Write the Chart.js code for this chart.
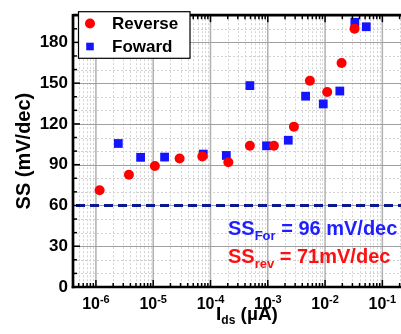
<!DOCTYPE html>
<html>
<head>
<meta charset="utf-8">
<script src="https://cdn.jsdelivr.net/npm/chart.js@4/dist/chart.umd.min.js"></script>
<style>
html,body{margin:0;padding:0;background:#fff;overflow:hidden;width:401px;height:334px;}
canvas{display:block;}
</style>
</head>
<body>
<canvas id="c" width="420" height="334"></canvas>
<script>
// ---- data ----
const revCurrent = [1.16e-6, 3.77e-6, 1.07e-5, 2.89e-5, 7.2e-5, 2.05e-4, 4.87e-4, 1.28e-3, 2.86e-3, 5.43e-3, 1.09e-2, 1.94e-2, 3.27e-2];
const revSS      = [71.2, 82.6, 89.0, 94.5, 96.1, 91.8, 103.9, 103.9, 118.0, 151.8, 143.5, 164.8, 190.1];
const forCurrent = [2.46e-6, 6.03e-6, 1.58e-5, 7.48e-5, 1.89e-4, 4.87e-4, 9.5e-4, 2.28e-3, 4.57e-3, 9.3e-3, 1.81e-2, 3.31e-2, 5.24e-2];
const forSS      = [105.6, 95.4, 95.6, 97.8, 96.8, 148.2, 103.9, 108.0, 140.4, 134.7, 144.2, 194.8, 191.5];
const yTicks = [0, 30, 60, 90, 120, 150, 180];
const xDecades = [-6, -5, -4, -3, -2, -1];
const idealSS = 60;
const seriesLabels = ['Reverse', 'Foward'];
const annotFor = ['SS', 'For', ' = 96 mV/dec'];
const annotRev = ['SS', 'rev', ' = 71mV/dec'];

const FONT = '"Liberation Sans", Arial, sans-serif';
const RED = '#ff0000', BLUE = '#1414ff';

function toPts(xs, ys){ return xs.map((x,i)=>({x:x, y:ys[i]})); }

function rich(ctx, parts, x, y, align){
  let w = 0;
  parts.forEach(p=>{ ctx.font = 'bold '+p[1]+'px '+FONT; w += ctx.measureText(p[0]).width; });
  let cx = align==='center' ? x - w/2 : x;
  ctx.textAlign = 'left'; ctx.textBaseline = 'alphabetic';
  parts.forEach(p=>{ ctx.font = 'bold '+p[1]+'px '+FONT; ctx.fillText(p[0], cx, y + p[2]); cx += ctx.measureText(p[0]).width; });
}

const decor = {
  id: 'decor',
  beforeDatasetsDraw(chart){
    const ctx = chart.ctx, a = chart.chartArea, xs = chart.scales.x, ys = chart.scales.y;
    ctx.save();
    ctx.beginPath(); ctx.rect(a.left, a.top, a.right-a.left, a.bottom-a.top); ctx.clip();
    ctx.strokeStyle = '#d2d2d2'; ctx.lineWidth = 1; ctx.setLineDash([2,2]);
    for (let k=-7;k<=0;k++) for (let m=2;m<=9;m++){
      const v = m*Math.pow(10,k); const px = Math.round(xs.getPixelForValue(v))+0.5;
      if (px<a.left||px>a.right) continue;
      ctx.beginPath(); ctx.moveTo(px,a.top); ctx.lineTo(px,a.bottom); ctx.stroke();
    }
    for (let v=10; v<200; v+=10){
      if (v%30===0) continue;
      const py = Math.round(ys.getPixelForValue(v))+0.5;
      ctx.beginPath(); ctx.moveTo(a.left,py); ctx.lineTo(a.right,py); ctx.stroke();
    }
    ctx.setLineDash([]);
    ctx.strokeStyle = '#b0b0b0'; ctx.lineWidth = 1.5;
    xDecades.forEach(k=>{
      const px = xs.getPixelForValue(Math.pow(10,k));
      ctx.beginPath(); ctx.moveTo(px,a.top); ctx.lineTo(px,a.bottom); ctx.stroke();
    });
    ctx.strokeStyle = '#a0a0a0'; ctx.lineWidth = 1;
    yTicks.forEach(v=>{
      if (v===0) return;
      const py = Math.round(ys.getPixelForValue(v))+0.5;
      ctx.beginPath(); ctx.moveTo(a.left,py); ctx.lineTo(a.right,py); ctx.stroke();
    });
    const p60 = ys.getPixelForValue(idealSS);
    ctx.strokeStyle = '#0a1a8c'; ctx.lineWidth = 3; ctx.setLineDash([9,5]);
    ctx.beginPath(); ctx.moveTo(a.left+3,p60); ctx.lineTo(a.right,p60); ctx.stroke();
    ctx.restore();
  },
  afterDraw(chart){
    const ctx = chart.ctx, a = chart.chartArea, xs = chart.scales.x, ys = chart.scales.y;
    ctx.save();
    ctx.strokeStyle = '#000'; ctx.lineWidth = 1.5;
    for (let v=0; v<=200; v+=10){
      const py = ys.getPixelForValue(v); const L = v%30===0 ? 7 : 4;
      ctx.beginPath(); ctx.moveTo(a.left,py); ctx.lineTo(a.left+L,py); ctx.stroke();
    }
    for (let k=-7;k<=0;k++) for (let m=1;m<=9;m++){
      const px = xs.getPixelForValue(m*Math.pow(10,k));
      if (px<a.left||px>a.right) continue;
      const L = m===1 ? 7 : 4;
      ctx.beginPath(); ctx.moveTo(px,a.bottom); ctx.lineTo(px,a.bottom-L); ctx.stroke();
      ctx.beginPath(); ctx.moveTo(px,a.top); ctx.lineTo(px,a.top+L); ctx.stroke();
    }
    ctx.lineWidth = 2.7;
    ctx.beginPath(); ctx.moveTo(a.left, a.top); ctx.lineTo(a.right+5, a.top); ctx.stroke();
    ctx.beginPath(); ctx.moveTo(a.left, a.top-1.3); ctx.lineTo(a.left, a.bottom+1.3); ctx.stroke();
    ctx.beginPath(); ctx.moveTo(a.left-1.3, a.bottom); ctx.lineTo(a.right+5, a.bottom); ctx.stroke();
    ctx.fillStyle = '#000';
    xDecades.forEach(k=>{
      const px = xs.getPixelForValue(Math.pow(10,k));
      rich(ctx, [['10',16,0],['-'+Math.abs(k),11,-6]], px, 309, 'center');
    });
    rich(ctx, [['I',19,0],['ds',12,4],[' (\u00b5A)',19,0]], 247, 320, 'center');
    ctx.fillStyle = '#fff'; ctx.fillRect(78.5, 11.7, 111.5, 46.6);
    ctx.strokeStyle = '#000'; ctx.lineWidth = 1.2; ctx.strokeRect(78.5, 11.7, 111.5, 46.6);
    ctx.fillStyle = RED; ctx.beginPath(); ctx.arc(90, 23.5, 5, 0, Math.PI*2); ctx.fill();
    ctx.fillStyle = BLUE; ctx.fillRect(90-3.8, 46.5-3.8, 7.6, 7.6);
    ctx.fillStyle = '#000'; ctx.font = 'bold 17px '+FONT; ctx.textBaseline = 'middle'; ctx.textAlign = 'left';
    ctx.fillText(seriesLabels[0], 112, 24);
    ctx.fillText(seriesLabels[1], 112, 47);
    ctx.fillStyle = '#1e1eff';
    rich(ctx, [[annotFor[0],20,0],[annotFor[1],13,5],[annotFor[2],20,0]], 228, 235, 'left');
    ctx.fillStyle = '#ff1010';
    rich(ctx, [[annotRev[0],20,0],[annotRev[1],13,5],[annotRev[2],20,0]], 228, 263, 'left');
    ctx.restore();
  }
};

new Chart(document.getElementById('c'), {
  type: 'scatter',
  data: {
    datasets: [
      { label: seriesLabels[0], data: toPts(revCurrent, revSS), pointStyle: 'circle', pointRadius: 5, pointHoverRadius: 5,
        backgroundColor: RED, borderColor: RED, borderWidth: 0, clip: false },
      { label: seriesLabels[1], data: toPts(forCurrent, forSS), pointStyle: 'rect', pointRadius: 6.2, pointHoverRadius: 6.2,
        backgroundColor: BLUE, borderColor: BLUE, borderWidth: 0, clip: false }
    ]
  },
  options: {
    responsive: false, animation: false, devicePixelRatio: 1,
    layout: { padding: { left: 0, top: 5, right: 9, bottom: 0 } },
    plugins: { legend: { display: false }, tooltip: { enabled: false } },
    scales: {
      x: { type: 'logarithmic', min: Math.pow(10,-6.4), max: Math.pow(10,-0.5),
           ticks: { display: false }, grid: { display: false, drawTicks: false }, border: { display: false },
           afterFit(s){ s.height = 47; } },
      y: { type: 'linear', min: 0, max: 200,
           ticks: { stepSize: 30, includeBounds: false, padding: 5, color: '#000', font: { family: FONT, size: 17, weight: 'bold' },
                    callback: v => yTicks.includes(v) ? String(v) : '' },
           grid: { display: false, drawTicks: false }, border: { display: false },
           title: { display: true, text: 'SS (mV/dec)', color: '#000', font: { family: FONT, size: 20, weight: 'bold' }, padding: { top: 12, bottom: 0 } },
           afterFit(s){ s.width = 73; } }
    }
  },
  plugins: [decor]
});
</script>
</body>
</html>
